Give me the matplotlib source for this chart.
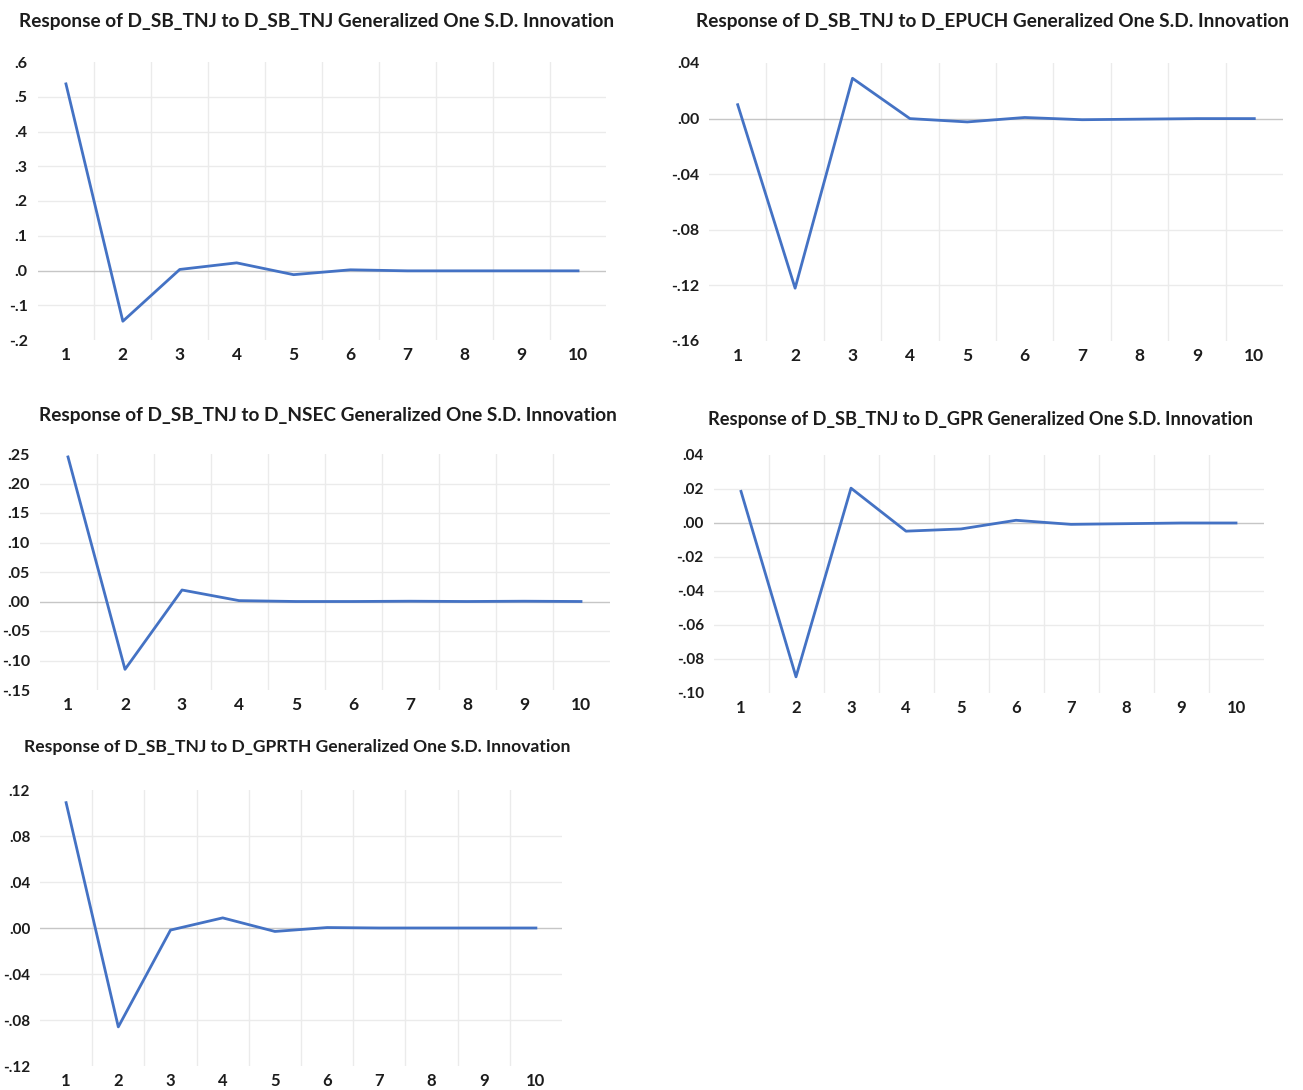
import numpy as np
import matplotlib
matplotlib.use("Agg")
import matplotlib.pyplot as plt

plt.rcParams['font.family'] = ['Lato', 'DejaVu Sans']

# impulse responses, periods 1..10
periods = np.arange(1, 11)
resp_sb_tnj = [0.537, -0.146, 0.003, 0.022, -0.012, 0.002, -0.001, -0.001, -0.001, -0.001]
resp_epuch = [0.010, -0.122, 0.029, 0.000, -0.0024, 0.0008, -0.0008, -0.0004, 0.0, 0.0]
resp_nsec = [0.245, -0.115, 0.0195, 0.0015, 0.0, 0.0, 0.0005, 0.0, 0.0005, 0.0]
resp_gpr = [0.0186, -0.0905, 0.0205, -0.0048, -0.0035, 0.0016, -0.0008, -0.0004, 0.0, 0.0]
resp_gprth = [0.109, -0.086, -0.0018, 0.0088, -0.003, 0.0004, 0.0, 0.0, 0.0, 0.0]

ticks_sb_tnj = [-0.2, -0.1, 0.0, 0.1, 0.2, 0.3, 0.4, 0.5, 0.6]
ticks_epuch = [-0.16, -0.12, -0.08, -0.04, 0.0, 0.04]
ticks_nsec = [-0.15, -0.10, -0.05, 0.0, 0.05, 0.10, 0.15, 0.20, 0.25]
ticks_gpr = [-0.10, -0.08, -0.06, -0.04, -0.02, 0.0, 0.02, 0.04]
ticks_gprth = [-0.12, -0.08, -0.04, 0.0, 0.04, 0.08, 0.12]

W, H = 1303, 1090
fig = plt.figure(figsize=(W / 100, H / 100), dpi=100)
renderer = fig.canvas.get_renderer()

LINE = '#4472C4'
TXT = '#1c1c1c'


def dotfmt(v, nd):
    s = f"{v:.{nd}f}"
    return s.replace('0.', '.', 1) if s.startswith(('0.', '-0.')) else s


def panel(box, shock, resp, yticks, nd, title_xy, title_w, fs_tick=11.5):
    left, right, top, bottom = box
    ax = fig.add_axes([left / W, 1 - bottom / H, (right - left) / W, (bottom - top) / H])
    ax.set_xlim(0.5, 10.5)
    ax.set_ylim(yticks[0], yticks[-1])
    for s in ax.spines.values():
        s.set_visible(False)
    # category gridlines sit between periods
    for xv in np.arange(1.5, 10.5, 1.0):
        ax.axvline(xv, color='#ebebeb', lw=1.0, zorder=0)
    for yv in yticks[1:-1]:
        col = '#c6c6c6' if abs(yv) < 1e-12 else '#ebebeb'
        ax.axhline(yv, color=col, lw=1.0, zorder=0)
    ax.plot(periods, resp, color=LINE, lw=2.0, zorder=3)
    ax.set_xticks(periods)
    ax.set_xticklabels([str(p) for p in periods], fontsize=fs_tick + 1, fontweight='bold', color=TXT)
    ax.set_yticks(yticks)
    ax.set_yticklabels([dotfmt(v, nd) for v in yticks], fontsize=fs_tick, fontweight='bold', color=TXT)
    ax.tick_params(length=0, pad=7)
    ax.tick_params(axis='x', pad=5)

    # title scaled to the width it takes over the panel
    t = fig.text(title_xy[0] / W, 1 - title_xy[1] / H,
                 f"Response of D_SB_TNJ to {shock} Generalized One S.D. Innovation",
                 ha='center', va='center', fontsize=13, fontweight='bold', color=TXT)
    wpx = t.get_window_extent(renderer).width
    t.set_fontsize(13 * title_w / wpx)
    return ax


panel((37.5, 606.5, 62, 340), 'D_SB_TNJ', resp_sb_tnj, ticks_sb_tnj, 1, (317, 22), 595)
panel((709, 1283, 63, 341), 'D_EPUCH', resp_epuch, ticks_epuch, 2, (993, 22), 594)
panel((39.5, 609.5, 454, 690), 'D_NSEC', resp_nsec, ticks_nsec, 2, (328, 415), 577)
panel((713.5, 1263.5, 455, 693), 'D_GPR', resp_gpr, ticks_gpr, 2, (980, 420), 544, fs_tick=11)
panel((40, 562, 790, 1066), 'D_GPRTH', resp_gprth, ticks_gprth, 2, (297, 747), 544, fs_tick=11)

fig.savefig('out.png', dpi=100, facecolor='white')
